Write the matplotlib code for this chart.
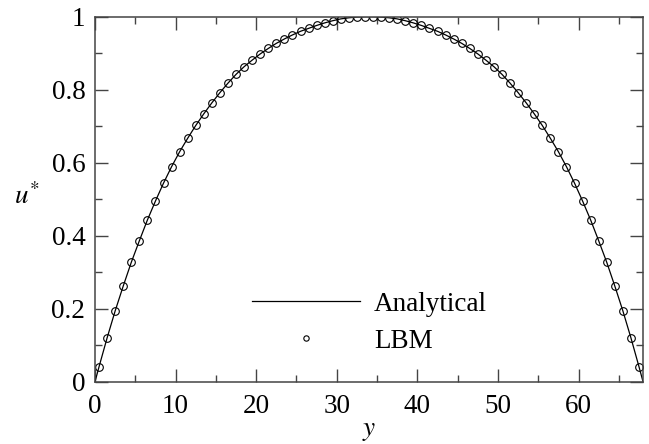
import numpy as np
import matplotlib
matplotlib.use('Agg')
import matplotlib.pyplot as plt
from matplotlib.ticker import MultipleLocator, FuncFormatter

# LBM nodes sit at half-integer positions across the channel (width 68)
y_lbm = np.arange(0.5, 68, 1.0)
u_lbm = [0.041, 0.120, 0.194, 0.262, 0.327, 0.386, 0.443, 0.495, 0.544, 0.589,
         0.630, 0.667, 0.702, 0.734, 0.764, 0.792, 0.818, 0.842, 0.863, 0.881,
         0.898, 0.913, 0.927, 0.939, 0.950, 0.960, 0.968, 0.976, 0.983, 0.989,
         0.994, 0.997, 0.999, 1.000,
         1.000, 0.999, 0.997, 0.994, 0.989, 0.983, 0.976, 0.968, 0.960, 0.950,
         0.939, 0.927, 0.913, 0.898, 0.881, 0.863, 0.842, 0.818, 0.792, 0.764,
         0.734, 0.702, 0.667, 0.630, 0.589, 0.544, 0.495, 0.443, 0.386, 0.327,
         0.262, 0.194, 0.120, 0.041]

# analytical profile goes to zero at both walls
y_wall = [0.0, 68.0]
y_ana = [y_wall[0]] + list(y_lbm) + [y_wall[1]]
u_ana = [0.0] + u_lbm + [0.0]

xticks = [0, 10, 20, 30, 40, 50, 60]
yticks = [0, 0.2, 0.4, 0.6, 0.8, 1]

plt.rcParams['font.family'] = ['Liberation Serif', 'DejaVu Serif']
plt.rcParams['mathtext.fontset'] = 'stix'

fig = plt.figure(figsize=(6.49, 4.44), dpi=100)
ax = fig.add_axes([0.1464, 0.1403, 0.8444, 0.8221])

ax.plot(y_ana, u_ana, color='black', lw=0.9, label='Analytical')
ax.plot(y_lbm, u_lbm, ls='none', marker='o', ms=5.5, mfc='none',
        mec='black', mew=0.8, label='LBM')

ax.set_xlim(0, 68)
ax.set_ylim(0, 1)
ax.set_xticks(xticks)
ax.set_yticks(yticks)
ax.xaxis.set_minor_locator(MultipleLocator(5))
ax.yaxis.set_minor_locator(MultipleLocator(0.1))
ax.yaxis.set_major_formatter(FuncFormatter(lambda v, p: '%g' % v))

ax.tick_params(which='both', direction='in', top=True, right=True,
               labelsize=19.5, width=1.0, color='#444444')
ax.tick_params(axis='x', which='major', pad=9)
ax.tick_params(axis='y', which='major', pad=7)
ax.tick_params(which='major', length=9.5)
ax.tick_params(which='minor', length=5)
for s in ax.spines.values():
    s.set_linewidth(1.1)
    s.set_color('#444444')

ax.set_xlabel('$y$', fontsize=19.5, labelpad=-1)
ax.set_ylabel('$u^{*}$', fontsize=19.5, rotation=0)
ax.yaxis.set_label_coords(-0.125, 0.47)

leg = ax.legend(loc='upper left', bbox_to_anchor=(0.2865, 0.247), frameon=False,
                fontsize=19.5, handlelength=4.0, handletextpad=0.5,
                labelspacing=0.45, borderpad=0, borderaxespad=0,
                markerscale=0.7)

fig.savefig('out.png', dpi=100)
